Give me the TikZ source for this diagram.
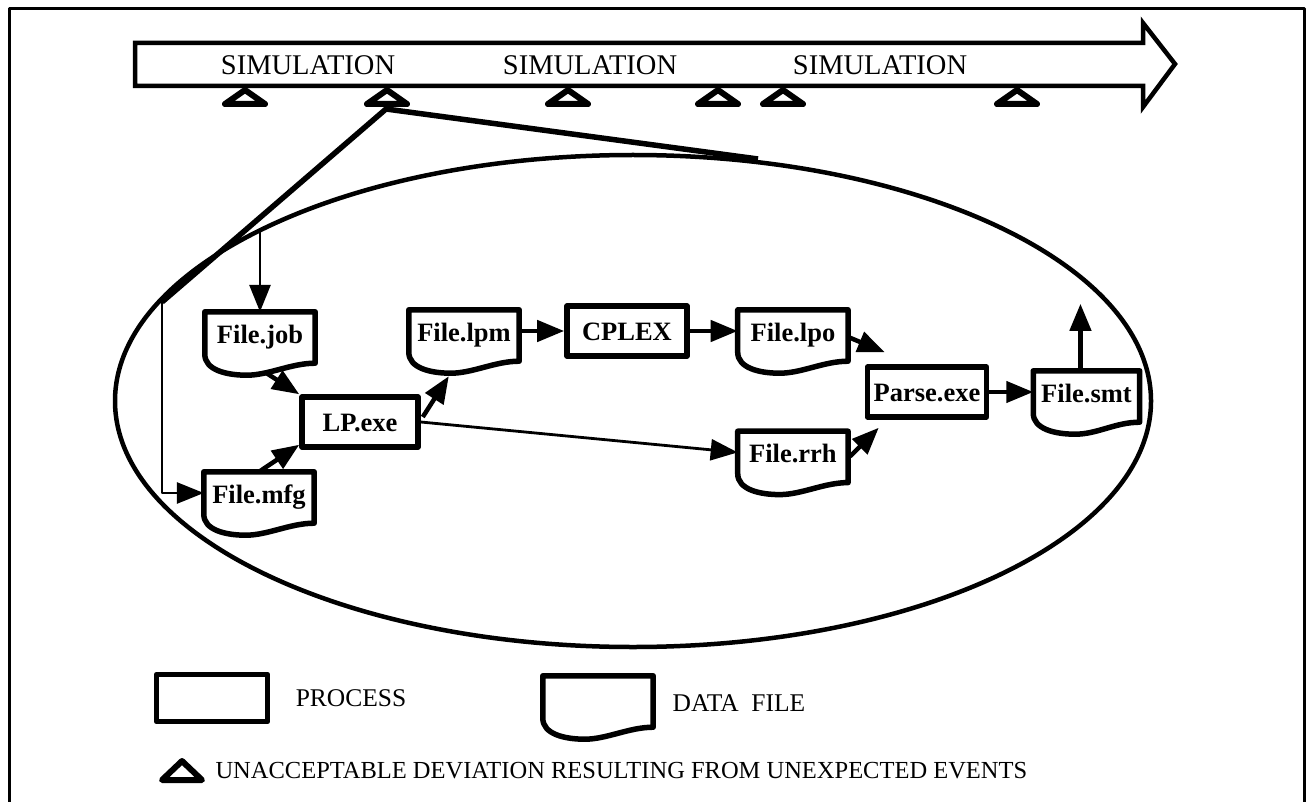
\documentclass[tikz,border=0pt]{standalone}
\usepackage{fontspec}
\setmainfont{Liberation Serif}
\usetikzlibrary{positioning,calc,arrows.meta}

\begin{document}
\begin{tikzpicture}[
  x=1pt,y=-1pt,
  every path/.style={line join=round},
  process/.style={draw,line width=5.5pt,minimum width=116pt,minimum height=50pt,inner sep=2pt,
    text height=20pt,text depth=2pt,font=\bfseries\fontsize{26.5}{30}\selectfont},
  datafile/.style={minimum width=110pt,minimum height=42pt,inner sep=2pt,
    text height=20pt,text depth=0pt,font=\bfseries\fontsize{26.5}{30}\selectfont},
  flow/.style={draw,line width=4.5pt,-{Triangle[length=27pt,width=21pt]}},
  feed/.style={draw,line width=2.8pt,-{Triangle[length=27pt,width=21pt]}},
  deviation/.style={draw,line width=6pt},
  phase/.style={font=\fontsize{28.5}{30}\selectfont},
  legend text/.style={font=\fontsize{25.5}{30}\selectfont},
  ]
  \useasboundingbox (0,0) rectangle (1308,802);
  \draw[line width=3pt] (9,802) -- (9,9) -- (1304,9) -- (1304,802);

  % time line
  \draw[line width=4.5pt,line join=miter] (135,43) -- (1143,43) -- (1143,23) -- (1175,64)
    -- (1143,107) -- (1143,86) -- (135,86) -- cycle;
  \node[phase] (sim1) at (308,65) {SIMULATION};
  \node[phase] (sim2) at (590,65) {SIMULATION};
  \node[phase] (sim3) at (880,65) {SIMULATION};
  \foreach \x in {245,387,568,718,783,1017}
    \draw[deviation] (\x-20,104) -- (\x,90) -- (\x+20,104) -- cycle;

  % zoom into one run
  \coordinate (zoomfrom) at (386,109);
  \coordinate (split) at (162,302);
  \coordinate (zoomend) at (758,159);
  \draw[line width=5.5pt] (split) -- (zoomfrom) -- (zoomend);
  \draw[line width=4.5pt] (633,401) ellipse [x radius=518pt,y radius=246pt];

  \node[process] (lp) at (360,422) {LP.exe};
  \node[datafile] (job) at (260,333) {File.job};
  \node[datafile] (mfg) at (259,493) {File.mfg};
  \node[datafile] (lpm) at (464,331) {File.lpm};
  \node[process,minimum width=120pt,right=45pt of lpm] (cplex) {CPLEX};
  \node[datafile,right=48pt of cplex] (lpo) {File.lpo};
  \node[datafile,below=79pt of lpo] (rrh) {File.rrh};
  \node[process,minimum width=119pt] (parse) at (927,392) {Parse.exe};
  \node[datafile,minimum width=106pt,right=44pt of parse] (smt) {File.smt};

  % legend
  \node[process,minimum width=111pt,minimum height=47pt] (legproc) at (212,698) {};
  \node[legend text,right=22pt of legproc] (proctext) {PROCESS};
  \node[datafile] (legfile) at (598,697) {};
  \node[legend text,right=16pt of legfile,yshift=-6pt] (filetext) {DATA\ \ FILE};
  \draw[deviation] (162,780) -- (182,761) -- (202,780) -- cycle;
  \node[legend text,anchor=west,font=\fontsize{24.5}{30}\selectfont] (devtext) at (212,771)
    {UNACCEPTABLE DEVIATION RESULTING FROM UNEXPECTED EVENTS};

  % data file outlines
  \foreach \f in {job,mfg,lpm,lpo,rrh,smt,legfile}
    \draw[line width=5.5pt] (\f.north east) -- (\f.north west) -- (\f.south west)
      .. controls +(0,16) and +(-20,0) .. ($(\f.south west)+(42,21)$)
      .. controls +(22,0) and +(-24,0) .. ($(\f.south east)+(0,9)$) -- cycle;

  % connectors
  \coordinate (jobin) at (260,230);
  \coordinate (out) at ($(smt.north)+(-6,-67)$);
  \draw[feed] (jobin) -- (job.north);
  \draw[feed] (split) |- (mfg.west);
  \draw[flow] ($(job.south)+(5,18)$) -- (lp.north west);
  \draw[flow] (mfg.north) -- ($(lp.south west)+(0,-5)$);
  \draw[flow] ($(lp.east)+(2,-5)$) -- ($(lpm.south west)+(40,24)$);
  \draw[feed] (lp.east) -- (rrh.west);
  \draw[flow] (lpm.east) -- (cplex.west);
  \draw[flow] (cplex.east) -- (lpo.west);
  \draw[flow] ($(lpo.east)+(0,6)$) -- ($(parse.north west)+(20,-12)$);
  \draw[flow] ($(rrh.east)+(2,4)$) -- ($(parse.south west)+(14,8)$);
  \draw[flow] (parse.east) -- (smt.west);
  \draw[flow] ($(smt.north)+(-6,0)$) -- (out);
\end{tikzpicture}
\end{document}
